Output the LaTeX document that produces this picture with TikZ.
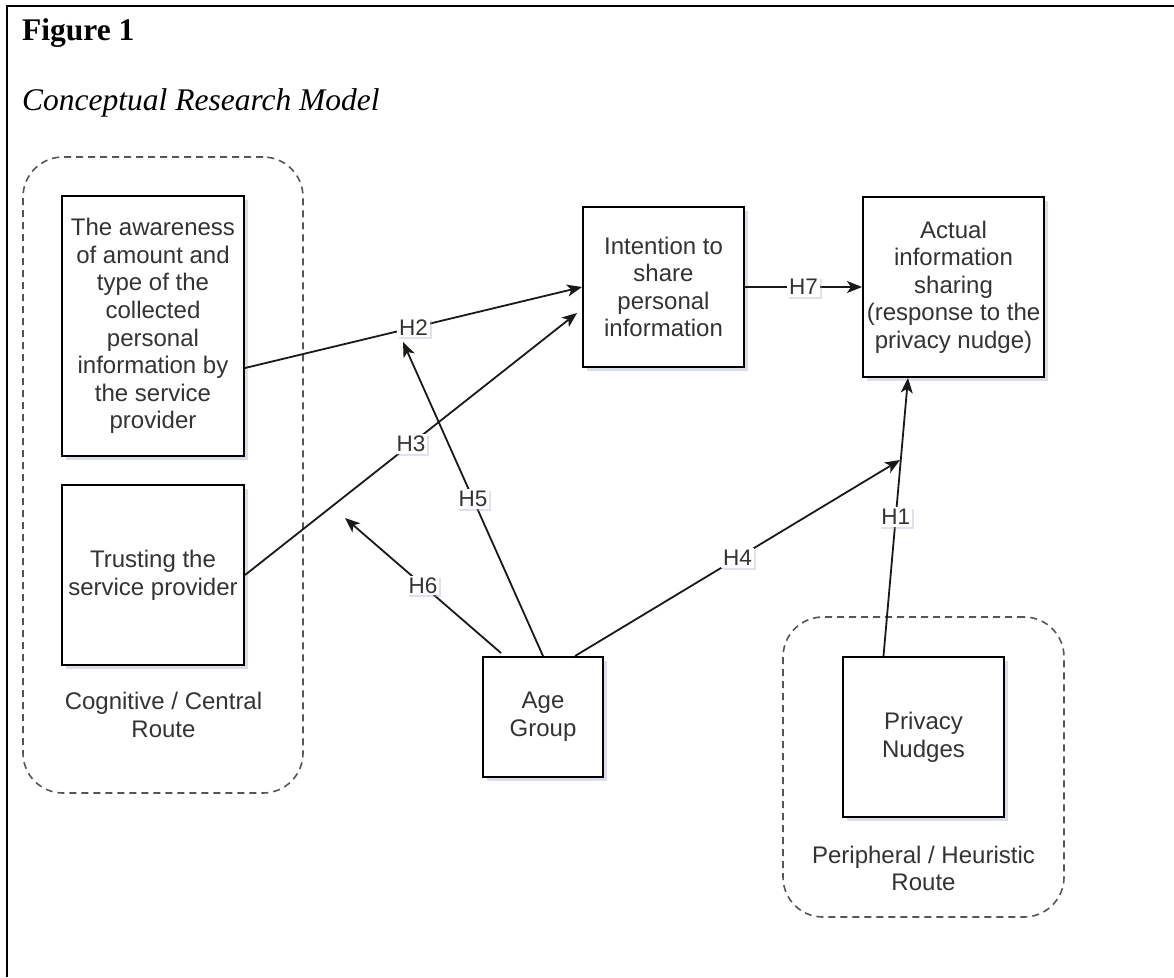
\documentclass[tikz,border=0pt]{standalone}
\usepackage{fontspec}
\setmainfont{Liberation Serif}
\newfontfamily\arialf{Liberation Sans}
\usetikzlibrary{arrows.meta,shadows,calc}
\definecolor{txt}{RGB}{51,51,51}
\definecolor{dashc}{RGB}{85,85,85}
\definecolor{shad}{RGB}{165,170,200}
\begin{document}
\begin{tikzpicture}[x=1pt,y=-1pt,
  box/.style={draw=black, line width=2pt, fill=white, align=center, inner sep=0pt, text=txt,
     font=\arialf\fontsize{24}{27.6}\selectfont,
     drop shadow={shadow xshift=4pt, shadow yshift=-4pt, fill=shad, opacity=0.4}},
  grp/.style={draw=dashc, line width=1.6pt, dash pattern=on 7pt off 5pt, rounded corners=40pt, inner sep=0pt},
  grplabel/.style={align=center, text=txt, inner sep=0pt, font=\arialf\fontsize{24}{27.6}\selectfont},
  hyp/.style={line width=1.8pt, draw=black!90, -{Stealth[length=15pt,width=12pt,inset=4pt]}},
  hlab/.style={fill=white, inner sep=2pt, text=txt, font=\arialf\fontsize{22.5}{24}\selectfont,
     drop shadow={shadow xshift=2pt, shadow yshift=-2pt, fill=shad, opacity=0.35}}
]
\useasboundingbox (0,0) rectangle (1174,977);
\fill[white] (0,0) rectangle (1174,977);
% frame
\draw[line width=2pt] (6.7,977) -- (6.7,5.7) -- (1174,5.7);
% title
\node[anchor=base west, inner sep=0pt, font=\fontsize{31.5}{36}\selectfont\bfseries] (fig) at (22,40) {Figure 1};
\node[anchor=base west, inner sep=0pt, font=\fontsize{31.5}{36}\selectfont\itshape] (cap) at (22,110) {Conceptual Research Model};
% groups
\node[grp, minimum width=280pt, minimum height=636pt] (g1) at (163,475) {};
\node[grp, minimum width=281pt, minimum height=300pt] (g2) at (923.5,767) {};
\node[grplabel] (g1lab) at (163.5,715) {Cognitive / Central\\Route};
\node[grplabel] (g2lab) at (923.5,868.5) {Peripheral / Heuristic\\Route};
% boxes
\node[box, minimum width=182pt, minimum height=260pt] (A) at (153,326)
  {The awareness\\of amount and\\type of the\\collected\\personal\\information by\\the service\\provider};
\node[box, minimum width=182pt, minimum height=180pt] (B) at (153,575)
  {Trusting the\\service provider};
\node[box, minimum width=161pt, minimum height=160pt] (C) at (663.5,287)
  {Intention to\\share\\personal\\information};
\node[box, minimum width=181pt, minimum height=180pt] (D) at (953.5,287)
  {Actual\\information\\sharing\\(response to the\\privacy nudge)};
\node[box, minimum width=120pt, minimum height=120pt] (Age) at (543,717)
  {Age\\Group};
\node[box, minimum width=161pt, minimum height=160pt] (P) at (923.5,737)
  {Privacy\\Nudges};
% free ends
\coordinate (h3e) at (577,313);
\coordinate (h5e) at (403,342);
\coordinate (h6e) at (345,518);
\coordinate (h4e) at (900,460);
% connectors
\draw[hyp] ([yshift=-42pt]A.east) -- (C.west) node[hlab, midway] (l2) {H2};
\draw[hyp] (B.east) -- (h3e) node[hlab, midway] (l3) {H3};
\draw[hyp] (Age.north) -- (h5e) node[hlab, midway] (l5) {H5};
\draw[hyp] ([xshift=-42pt,yshift=3pt]Age.north) -- (h6e) node[hlab, midway] (l6) {H6};
\draw[hyp] ([xshift=32pt]Age.north) -- (h4e) node[hlab, midway] (l4) {H4};
\draw[hyp] ([xshift=-40pt]P.north) -- ([xshift=-45.5pt]D.south) node[hlab, midway] (l1) {H1};
\draw[hyp] (C.east) -- (D.west) node[hlab, midway] (l7) {H7};
\end{tikzpicture}
\end{document}
